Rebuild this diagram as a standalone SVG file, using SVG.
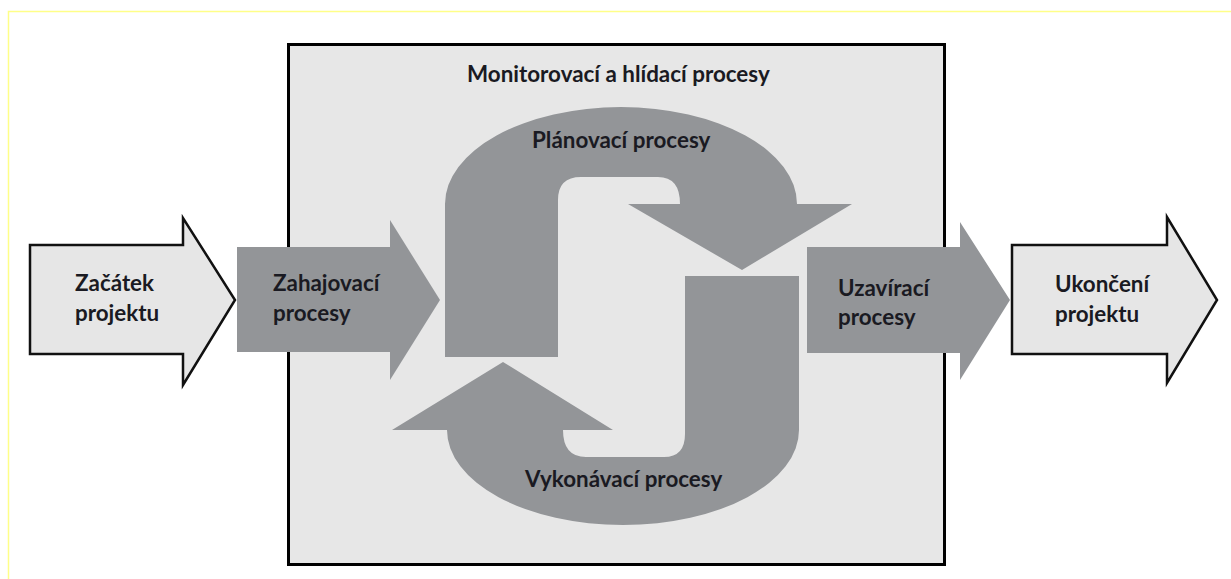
<svg xmlns="http://www.w3.org/2000/svg" width="1231" height="579" viewBox="0 0 1231 579">
<style>
.lbl{font-family:Lato,"Liberation Sans",sans-serif;font-weight:bold;font-size:22.4px;fill:#1a1a22}
.dark{fill:#939598}
.light{fill:#e6e6e6;stroke:#111;stroke-width:2.5;stroke-linejoin:miter}
</style>
<rect width="1231" height="579" fill="#fff"/>
<path d="M8.5,579 V11.5 H1231" fill="none" stroke="#ffff88" stroke-width="1.5"/>
<g id="monitoring">
<rect x="288.5" y="44.5" width="656" height="520" fill="#e7e7e7" stroke="#000" stroke-width="3"/>
<text class="lbl" x="467" y="82">Monitorovací a hlídací procesy</text>
</g>
<g id="planning">
<path class="dark" d="M445,357 V204 A176,97 0 0 1 797,204 H852 L742,270 L628,204 H680 Q680,177 658,177 H581 Q558,177 558,200 V357 Z"/>
<text class="lbl" x="532" y="148">Plánovací procesy</text>
</g>
<g id="executing">
<path class="dark" d="M685,276 H799 V430 A176,95 0 0 1 447,430 H392 L503,362 L613,430 H563 Q563,457 586,457 H664 Q685,457 685,434 V276 Z"/>
<text class="lbl" x="525" y="487">Vykonávací procesy</text>
</g>
<g id="start">
<path class="light" d="M30,245 H183 V218 L235,300 L183,385 V354 H30 Z"/>
<text class="lbl" x="75" y="291">Začátek</text>
<text class="lbl" x="75" y="321">projektu</text>
</g>
<g id="initiating">
<path class="dark" d="M237,247 H390 V220 L440,300 L390,380 V352 H237 Z"/>
<text class="lbl" x="273" y="291">Zahajovací</text>
<text class="lbl" x="273" y="321">procesy</text>
</g>
<g id="closing">
<path class="dark" d="M807,247 H960 V222 L1010,300 L960,380 V353 H807 Z"/>
<text class="lbl" x="838" y="296">Uzavírací</text>
<text class="lbl" x="838" y="325">procesy</text>
</g>
<g id="end">
<path class="light" d="M1012,245 H1167 V217 L1217,300 L1167,383 V354 H1012 Z"/>
<text class="lbl" x="1055" y="292">Ukončení</text>
<text class="lbl" x="1055" y="322">projektu</text>
</g>
<g id="connectors"></g>
</svg>
